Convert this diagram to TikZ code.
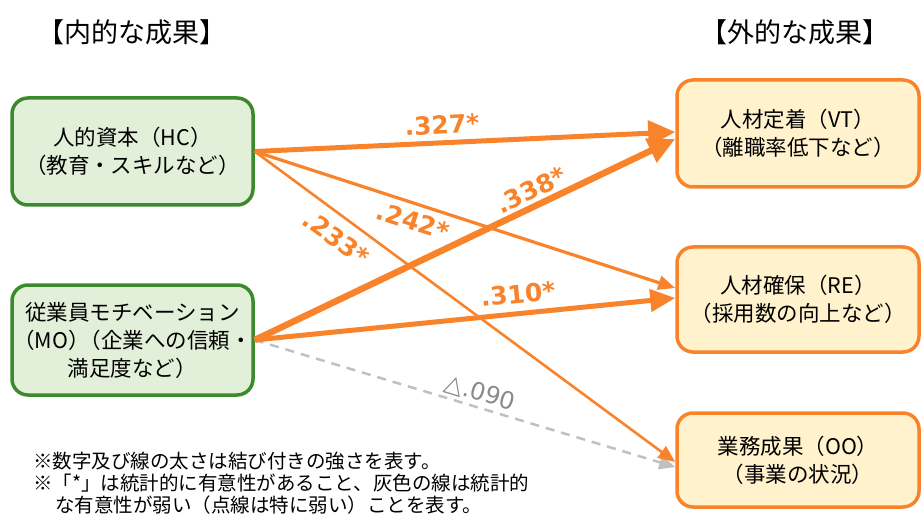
\documentclass[tikz,border=0pt]{standalone}
\usepackage{fontspec}
\setmainfont{Noto Sans CJK JP}
\newfontfamily\numfont{DejaVu Sans}
\usetikzlibrary{arrows.meta,calc}
\definecolor{gborder}{HTML}{3B8A2E}
\definecolor{gfill}{HTML}{E2F0D9}
\definecolor{org}{HTML}{F9832B}
\definecolor{ofill}{HTML}{FFF2CC}
\definecolor{dgray}{HTML}{C0C0C0}
\definecolor{lgray}{HTML}{8A8A8A}
\tikzset{
  inbox/.style={draw=gborder, fill=gfill, line width=3.5pt, rounded corners=16pt,
    minimum width=241pt, align=center, inner sep=0pt, font=\fontsize{21.5}{28}\selectfont},
  outbox/.style={draw=org, fill=ofill, line width=3.5pt, rounded corners=16pt,
    minimum width=242pt, align=center, inner sep=0pt, font=\fontsize{21.5}{28}\selectfont},
  title/.style={font=\fontsize{27}{27}\selectfont, inner sep=0pt},
  lbl/.style={text=org, font=\numfont\bfseries\fontsize{25}{25}\selectfont, inner sep=0pt},
  glbl/.style={text=lgray, font=\numfont\fontsize{24}{24}\selectfont, inner sep=0pt},
  bighead/.style={-{Triangle[length=27pt,width=25pt]}},
  midhead/.style={-{Triangle[length=25pt,width=22pt]}},
  smallhead/.style={-{Triangle[length=17pt,width=14pt]}},
}
\begin{document}
\begin{tikzpicture}[x=1pt,y=-1pt]
\useasboundingbox (0,0) rectangle (922,516);
\node[title] (t1) at (132,32) {【内的な成果】};
\node[title] (t2) at (795,32) {【外的な成果】};

\node[inbox, minimum height=107pt] (hc) at (132.5,151.5) {人的資本（HC）\\（教育・スキルなど）};
\node[inbox, minimum height=110pt] (mo) at (132.5,340) {従業員モチベーション\\（MO）\kern-10pt（企業への信頼・\\満足度など）};

\node[outbox, minimum height=107pt] (vt) at (798,133.5) {人材定着（VT）\\（離職率低下など）};
\node[outbox, minimum height=105pt] (re) at (798,299.5) {人材確保（RE）\\（採用数の向上など）};
\node[outbox, minimum height=94pt] (oo) at (798,460) {業務成果（OO）\\（事業の状況）};

% connectors
\draw[dgray, line width=2.5pt, dash pattern=on 9pt off 7pt, -{Triangle[length=16pt,width=14pt]}] (mo.east) -- ($(oo.west)+(0,7)$);
\draw[org, line width=2.6pt, smallhead] (hc.east) -- ($(oo.west)+(0,2)$);
\draw[org, line width=3.2pt, smallhead] (hc.east) -- ($(re.west)+(0,-11.5)$);
\draw[org, line width=5pt, midhead] (mo.east) -- ($(re.west)+(0,-1.5)$);
\draw[org, line width=5pt, bighead] (hc.east) -- ($(vt.west)+(0,-1.5)$);
\draw[org, line width=6.5pt, bighead] (mo.east) -- ($(vt.west)+(0,5.5)$);

% labels
\node[lbl, rotate=2.8] (l327) at (442,125) {.327*};
\node[lbl, rotate=25.4] (l338) at (531,190) {.338*};
\node[lbl, rotate=-17.7] (l242) at (413,221) {.242*};
\node[lbl, rotate=-36.1] (l233) at (336,238) {.233*};
\node[lbl, rotate=5.5] (l310) at (518,294) {.310*};
\node[glbl, rotate=-16.8] (l090) at (480,393) {△.090};

\node[anchor=north west, align=left, inner sep=0pt, font=\fontsize{19.5}{22}\selectfont] (note) at (33,452)
  {※数字及び線の太さは結び付きの強さを表す。\\
   ※「*」は統計的に有意性があること、灰色の線は統計的\\
   \hspace*{22pt}な有意性が弱い（点線は特に弱い）ことを表す。};
\end{tikzpicture}
\end{document}
